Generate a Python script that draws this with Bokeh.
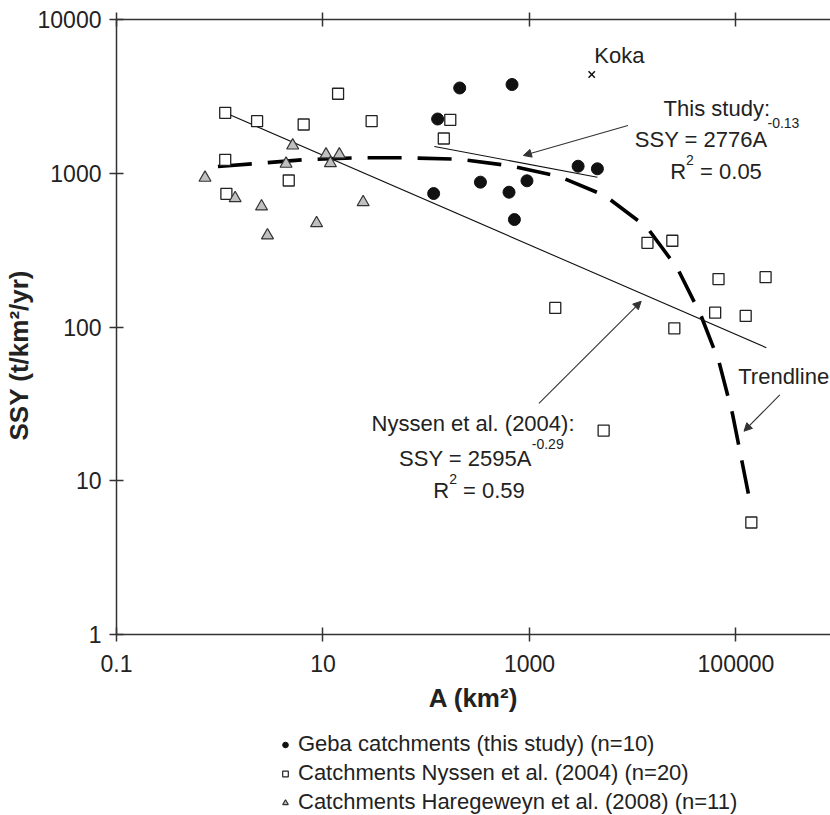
from bokeh.plotting import figure
from bokeh.layouts import column
from bokeh.models import (Range1d, FixedTicker, CustomJSTickFormatter, LogAxis, Label,
                          Arrow, NormalHead, Legend, LegendItem, Title)
from bokeh.embed import file_html
from bokeh.resources import INLINE

FONT = "Liberation Sans"

# ---- data ----
x_ticks = [0.1, 10, 1000, 100000]
y_ticks = [1, 10, 100, 1000, 10000]

geba_area = [211, 678, 129, 335, 118, 2960, 4550, 946, 634, 715]
geba_ssy = [3585, 3777, 2253, 875, 738, 1111, 1069, 893, 753, 500]

nyssen_area = [1.13, 2.30, 6.5, 14.0, 29.6, 171, 148, 1.13, 4.66, 1.16,
               13900, 24200, 67800, 193700, 62900, 124300, 25300, 1778, 5230, 141000]
nyssen_ssy = [2472, 2181, 2075, 3288, 2181, 2227, 1683, 1223, 897, 735,
              353, 364, 205, 211, 124, 118, 98, 133, 21.2, 5.35]

hareg_area = [0.72, 5.09, 4.39, 10.7, 14.4, 11.8, 1.41, 2.54, 24.5, 8.67, 2.90]
hareg_ssy = [934, 1515, 1152, 1324, 1324, 1162, 688, 608, 648, 473, 394]

koka_area = [4009]
koka_ssy = [4387]

trend_area = [0.96, 2.09, 6.36, 20.8, 65.4, 206, 626, 1900, 5350, 13700,
              27300, 45800, 68700, 92500, 115600, 141000]
trend_ssy = [1106, 1152, 1223, 1260, 1260, 1234, 1123, 957, 717, 446,
             239, 119, 59, 27.3, 12.9, 6.57]

nyssen_fit_area = [1.13, 197000]
nyssen_fit_ssy = [2472, 73.3]

study_fit_area = [120, 4550]
study_fit_ssy = [1493, 942]

legend_labels = ["Geba catchments (this study) (n=10)",
                 "Catchments Nyssen et al. (2004) (n=20)",
                 "Catchments Haregeweyn et al. (2008) (n=11)"]

# ---- main figure ----
p = figure(x_axis_type="log", y_axis_type="log",
           x_range=Range1d(0.1, 8.24e5), y_range=Range1d(1, 10000),
           width=830, height=722,
           min_border_left=113, min_border_right=0, min_border_top=19,
           min_border_bottom=88,
           output_backend="svg", toolbar_location=None,
           background_fill_color="white", border_fill_color="white",
           outline_line_color=None)
p.xgrid.visible = False
p.ygrid.visible = False

fmt = CustomJSTickFormatter(code="return String(tick);")


def style(ax):
    ax.axis_line_color = "#333333"
    ax.axis_line_width = 1.5
    ax.major_tick_line_color = "#333333"
    ax.major_tick_line_width = 1.5
    ax.major_tick_in = 7
    ax.major_tick_out = 7
    ax.minor_tick_line_color = None
    ax.major_label_text_font = FONT
    ax.major_label_text_font_size = "23px"
    ax.major_label_text_color = "#222222"


xa = p.xaxis[0]
xa.ticker = FixedTicker(ticks=x_ticks)
xa.formatter = fmt
style(xa)
xa.major_label_standoff = 13
xa.axis_label = "A (km²)"
xa.axis_label_text_font = FONT
xa.axis_label_text_font_style = "bold"
xa.axis_label_text_font_size = "26px"
xa.axis_label_text_color = "#222222"
xa.axis_label_standoff = 8

ya = p.yaxis[0]
ya.ticker = FixedTicker(ticks=y_ticks)
ya.formatter = fmt
style(ya)
ya.major_label_standoff = 8

top = LogAxis(ticker=FixedTicker(ticks=x_ticks), formatter=fmt)
style(top)
top.major_label_text_font_size = "1px"
top.major_label_text_color = None
top.major_label_standoff = 0
p.add_layout(top, "above")

# y axis title (left panel, shifted down like the reference)
p.add_layout(Title(text="SSY (t/km²/yr)", align="left", offset=194, standoff=2,
                   text_font=FONT, text_font_size="26px", text_font_style="bold",
                   text_color="#222222"), "left")

# ---- lines ----
p.line(trend_area, trend_ssy, line_color="black", line_width=3.6, line_dash="34 16")
p.line(nyssen_fit_area, nyssen_fit_ssy, line_color="#111111", line_width=1.1)
p.line(study_fit_area, study_fit_ssy, line_color="#111111", line_width=1.1)

# ---- markers ----
SQ = dict(marker="square", size=11, fill_color="white", line_color="#222222", line_width=1.3)
TR = dict(marker="triangle", size=12, fill_color="#c0c0c0", line_color="#333333", line_width=1.2)
CI = dict(marker="circle", size=12, fill_color="#111111", line_color="#111111")

p.scatter(nyssen_area, nyssen_ssy, **SQ)
p.scatter(hareg_area, hareg_ssy, **TR)
p.scatter(geba_area, geba_ssy, **CI)
p.scatter(koka_area, koka_ssy, marker="x", size=9, line_color="#111111", line_width=1.5)

# ---- arrows ----
def arrow(x0, y0, x1, y1):
    p.add_layout(Arrow(end=NormalHead(size=8, fill_color="#333333", line_color="#333333",
                                      line_width=1),
                       x_start=x0, y_start=y0, x_end=x1, y_end=y1,
                       line_color="#333333", line_width=1.1))

arrow(8990, 2045, 873, 1305)
arrow(1235, 31.9, 12080, 147)
arrow(266000, 36.2, 119700, 21.0)

# ---- annotation texts ----
LIFT = 1.11  # small upward nudge of the text baselines


def label(x, y, text, size="22px", align="left"):
    p.add_layout(Label(x=x, y=y * LIFT, text=text, text_font=FONT, text_font_size=size,
                       text_color="#222222", text_align=align,
                       text_baseline="alphabetic"))

label(7430, 5252, "Koka", align="center")

label(65260, 2375, "This study:", align="center")
label(202100, 1500, "SSY = 2776A", align="right")
label(202100, 1900, "-0.13", size="14px")
label(32920, 920, "R", align="right")
label(32920, 1106, "2", size="14px")
label(44940, 920, "= 0.05")

label(284, 21.23, "Nyssen et al. (2004):", align="center")
label(1053, 12.57, "SSY = 2595A", align="right")
label(1053, 15.7, "-0.29", size="14px")
label(166.7, 7.78, "R", align="right")
label(166.7, 9.31, "2", size="14px")
label(227.4, 7.78, "= 0.59")

label(105200, 42.7, "Trendline")

# ---- legend strip below (same series, drawn outside its visible range) ----
q = figure(width=830, height=93, x_range=Range1d(0, 1), y_range=Range1d(0, 1),
           min_border=0, output_backend="svg", toolbar_location=None,
           x_axis_location=None, y_axis_location=None,
           background_fill_color="white", border_fill_color="white",
           outline_line_color=None)
q.xgrid.visible = False
q.ygrid.visible = False
lc = q.scatter(geba_area, geba_ssy, **dict(CI, size=14))
ls = q.scatter(nyssen_area, nyssen_ssy, **dict(SQ, size=14, line_width=1.2))
lt = q.scatter(hareg_area, hareg_ssy, **dict(TR, size=16))

legend = Legend(items=[LegendItem(label=legend_labels[0], renderers=[lc]),
                       LegendItem(label=legend_labels[1], renderers=[ls]),
                       LegendItem(label=legend_labels[2], renderers=[lt])],
                location=(162, 0), orientation="vertical",
                label_text_font=FONT, label_text_font_size="22px",
                label_text_color="#222222",
                glyph_width=14, glyph_height=25, label_height=25,
                spacing=3, padding=0, margin=0, label_standoff=6,
                border_line_color=None, background_fill_alpha=0)
q.add_layout(legend)

layout = column(p, q, spacing=0)
open("out.html", "w").write(file_html(layout, INLINE))
